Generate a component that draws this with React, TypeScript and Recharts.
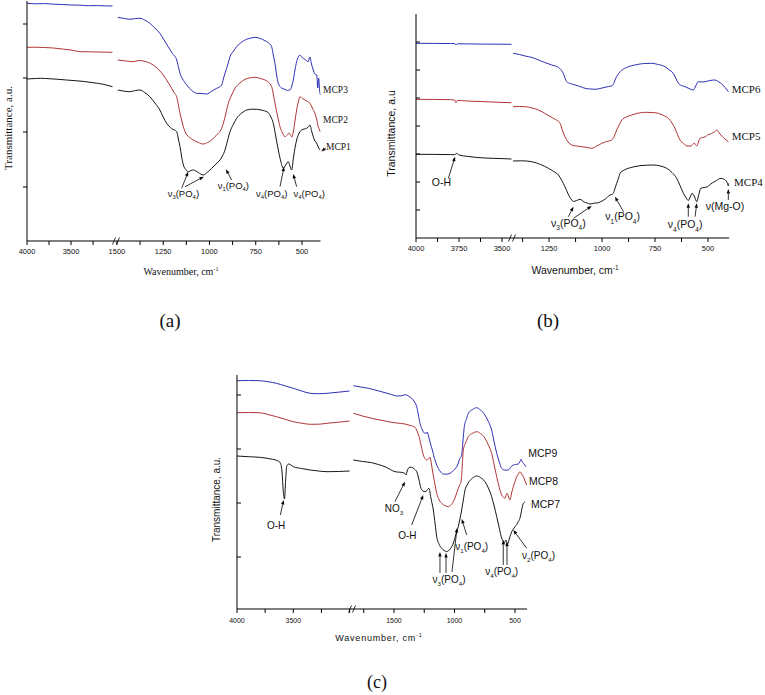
import React from 'react';
import { LineChart, Line, XAxis, YAxis, ReferenceLine, ReferenceDot } from 'recharts';

type Pt = [number, number];

// ---------- Panel (a) : MCP1–MCP3 ----------
const A_L_MCP3: Pt[] = [[4000,237.7],[3900,237.2],[3800,237.4],[3700,236.8],[3600,236.5],[3500,236],[3400,235.8],[3300,235.3],[3200,235.4],[3100,235.1],[3030,235]];
const A_L_MCP2: Pt[] = [[4000,193.7],[3900,193.8],[3800,193.5],[3700,193],[3600,192],[3500,191],[3400,189.3],[3300,189.2],[3200,189],[3100,188.8],[3030,188.7]];
const A_L_MCP1: Pt[] = [[4000,162],[3900,162.5],[3850,162.7],[3750,162.3],[3650,161.7],[3550,161],[3450,160.3],[3350,159.5],[3250,158.3],[3150,157],[3100,156],[3030,154.3]];

const A_R_MCP3: Pt[] = [[1495,223.7],[1460,222.5],[1430,221.7],[1400,222.5],[1376,222.7],[1350,221],[1322,217.7],[1295,213],[1268,207.7],[1245,201],[1223,194.3],[1200,187.5],[1177,181],[1165,172],[1159,167.7],[1140,160.5],[1123,156],[1095,150.5],[1069,147.7],[1040,147.5],[1015,147],[990,149.5],[961,152.7],[945,154],[934,156],[925,162],[916,167.7],[900,177],[889,184.3],[870,190],[853,194.3],[825,199],[799,201.7],[775,203],[754,203.7],[725,202.5],[700,200.3],[680,198],[664,194.3],[655,186],[646,177.7],[637,166],[628,157.7],[610,153],[592,151.7],[578,150.5],[565,151],[555,155],[547,161],[538,171],[529,179.3],[520,184],[511,186],[502,184],[493,182.7],[480,181],[466,179.3],[460,183],[457,184],[450,178],[439,171],[430,167],[420,166],[415,153],[410,163],[405,151],[400,146]];
const A_R_MCP2: Pt[] = [[1495,181],[1450,180],[1412,179.3],[1385,180.5],[1358,180],[1330,178.5],[1304,176],[1275,171.5],[1250,166],[1225,159],[1204,152.7],[1190,148],[1177,144.3],[1168,136],[1159,127.7],[1145,117],[1132,109.3],[1110,104],[1087,101],[1060,98.5],[1034,97],[1010,98.5],[988,101],[970,104.5],[952,107.7],[938,111],[925,117.7],[912,127],[898,137.7],[880,146],[862,152.7],[835,158],[808,161.7],[780,163.2],[754,163.7],[725,162.5],[700,161],[680,158.5],[664,154.3],[655,147],[646,137.7],[632,125],[619,114.3],[605,108],[592,104.3],[580,106],[570,108],[562,106],[555,104],[547,109],[538,120],[529,131],[520,139],[511,144.3],[498,142.5],[484,141],[470,139.5],[457,137.7],[444,133],[430,127.7],[420,121],[412,114.3],[405,111],[400,109]];
const A_R_MCP1: Pt[] = [[1495,151],[1460,149.8],[1430,149.3],[1400,150.5],[1376,151],[1350,148.5],[1322,144.3],[1295,138],[1268,131],[1250,124],[1231,117.7],[1205,112.5],[1177,109.3],[1168,102],[1159,94.3],[1150,84],[1141,76],[1128,71.5],[1114,69.3],[1100,70.5],[1087,71],[1060,68.5],[1034,66],[1010,69],[988,72.7],[965,77],[943,81],[930,85],[916,91],[903,100],[889,109.3],[870,117],[853,122.7],[825,128],[799,131],[770,131.8],[745,131.7],[710,130.5],[682,128.3],[668,124],[655,117.7],[642,105],[628,91],[615,80],[601,72.7],[588,76],[574,79.3],[565,75],[556,71],[545,85],[529,101],[515,108],[502,111],[488,112],[475,112.7],[466,114],[457,116],[448,110],[439,104.3],[430,100],[421,98],[412,94],[403,91]];

// ---------- Panel (b) : MCP4–MCP6 ----------
const B_L_MCP6: Pt[] = [[4000,194.7],[3900,194.6],[3800,194.5],[3775,194.4],[3768,193],[3760,194.2],[3700,194.1],[3600,193.9],[3500,193.8],[3445,193.7]];
const B_L_MCP5: Pt[] = [[4000,138.7],[3900,138.6],[3800,138.3],[3775,138],[3768,135.3],[3760,137.5],[3700,137],[3600,136.3],[3500,135.6],[3445,135.3]];
const B_L_MCP4: Pt[] = [[4000,83.7],[3900,83.6],[3800,83.4],[3775,83.3],[3763,84.6],[3750,83],[3700,81.6],[3650,80.6],[3600,80],[3500,79.4],[3445,79]];

const B_R_MCP6: Pt[] = [[1420,184.7],[1390,183.5],[1363,182],[1330,180.5],[1300,178],[1270,175.5],[1237,173],[1220,172],[1206,170.7],[1195,168.5],[1183,164.7],[1175,160],[1167,156.3],[1150,154.5],[1127,153],[1105,151.5],[1080,149.7],[1055,149],[1033,148.7],[1010,149.5],[986,150.7],[970,151.5],[954,152],[945,154.5],[939,158],[928,162.5],[915,166.3],[895,169.5],[876,171.3],[850,172.8],[829,173.7],[800,174.5],[766,174.7],[735,173.5],[703,171.3],[685,168.5],[664,164.7],[650,159],[640,154.7],[625,152.5],[608,151.3],[590,149.5],[569,148],[558,152],[546,156.3],[530,156],[514,156.3],[490,157.5],[467,158],[455,157],[443,155.3],[430,153],[420,150.7],[410,148],[404,146.3]];
const B_R_MCP5: Pt[] = [[1420,131.3],[1390,131.5],[1363,131.3],[1330,130],[1300,128],[1265,124],[1230,119.7],[1212,117.5],[1198,114.7],[1186,107],[1175,101.3],[1160,96],[1143,93],[1120,92],[1096,91.3],[1070,90.5],[1049,89.7],[1025,92],[1001,94.7],[978,96.5],[954,98],[942,102],[931,108],[918,113.5],[907,118],[885,121],[860,123],[830,124.8],[797,125.7],[765,125.5],[734,124.7],[710,122.5],[687,119.7],[670,115],[656,109.7],[644,103.5],[632,98],[615,94.5],[600,92],[581,92],[570,94],[565,95],[558,93],[553,92],[545,96],[538,99.7],[525,100.5],[514,101],[502,103],[490,104],[482,104.7],[470,106],[459,108],[447,105],[435,102],[420,99],[404,96.3]];
const B_R_MCP4: Pt[] = [[1420,77],[1380,77.2],[1332,76.3],[1290,73.5],[1253,69.7],[1228,66.5],[1206,63],[1190,57.5],[1175,51.3],[1160,44],[1143,38],[1135,36.5],[1120,37.5],[1104,38.7],[1085,36],[1070,35],[1057,34],[1037,34.8],[1017,35.3],[1000,37],[986,38.7],[974,41],[962,43],[955,43.5],[947,44.7],[940,49],[931,54.7],[922,60],[915,64.7],[895,68],[876,69.7],[850,71.2],[821,72.3],[790,72.8],[758,73],[725,72],[695,69.7],[670,65.5],[648,59.7],[632,52.5],[616,44.7],[603,40],[593,37.5],[584,41],[575,44.7],[563,41],[553,36.3],[544,43],[534,49.7],[518,50.5],[502,51.3],[490,53.5],[478,55.3],[460,57.5],[439,59.7],[427,59],[415,57.3],[408,54.5],[404,52],[400,55]];

// ---------- Panel (c) : MCP7–MCP9 ----------
const C_L_MCP9: Pt[] = [[4000,228.3],[3900,228.5],[3800,228.3],[3725,227.3],[3650,225.7],[3575,223.2],[3500,220.7],[3425,218],[3350,215.7],[3275,215.3],[3200,215.7],[3100,216.8],[3000,218]];
const C_L_MCP8: Pt[] = [[4000,196.3],[3900,196.5],[3800,196.3],[3725,194.5],[3650,192.3],[3575,189.8],[3500,187.3],[3425,185.8],[3350,184.7],[3275,184.8],[3200,185.7],[3100,186.8],[3000,188]];
const C_L_MCP7: Pt[] = [[4000,153],[3900,152.3],[3800,151.7],[3700,150],[3640,148.3],[3615,146],[3600,137],[3590,119],[3578,110],[3568,129],[3558,143],[3540,145],[3500,142.3],[3425,140.5],[3350,139],[3275,138],[3200,137.3],[3100,137.5],[3000,138]];

const C_R_MCP9: Pt[] = [[1836,223.3],[1775,222],[1712,220.7],[1640,218.5],[1574,216.3],[1520,214.5],[1478,213],[1440,213.2],[1410,214.2],[1395,214],[1375,212.5],[1354,210.7],[1330,207],[1312,202.3],[1298,194],[1285,185.7],[1265,179],[1244,175.7],[1230,176],[1225,177],[1217,174],[1200,166],[1183,159],[1165,150.5],[1147,144],[1120,138],[1092,135],[1065,134.8],[1037,135.7],[1010,138.5],[982,142.3],[968,146],[955,150.7],[942,153],[930,168],[919,182.3],[900,190.5],[886,195.7],[850,199.5],[817,201.3],[785,199],[748,194],[720,187.5],[693,179],[672,167],[651,155.7],[630,147],[610,140.7],[580,138.8],[555,139],[535,142],[514,144],[495,144.5],[473,145],[460,147],[450,149.7],[440,147],[431,145.7],[420,144],[409,142.3]];
const C_R_MCP8: Pt[] = [[1836,195.7],[1760,193],[1684,190.7],[1615,189],[1547,187.3],[1480,186],[1409,185],[1365,183.5],[1326,181.7],[1310,178],[1293,172.3],[1275,163],[1258,154],[1244,150.5],[1230,149],[1215,150],[1202,151.7],[1192,146],[1183,139],[1165,127],[1147,115.7],[1126,109],[1106,105.7],[1080,103.5],[1051,102.3],[1030,104],[1010,107.3],[990,113],[969,120.7],[955,124.5],[945,128],[936,143],[927,159],[905,167],[886,172.3],[850,175.8],[817,177.3],[785,175.5],[748,170.7],[720,164],[693,155.7],[672,144],[651,132.3],[630,121.5],[610,114],[595,111.5],[583,110.7],[573,114],[565,115.7],[553,112],[541,109],[528,116],[514,122.3],[500,127.5],[486,132.3],[472,135],[459,137.3],[445,135],[431,132.3],[417,128],[403,124]];
const C_R_MCP7: Pt[] = [[1836,149],[1760,147.5],[1684,146.3],[1630,144.5],[1574,142.3],[1530,139.5],[1492,137.3],[1455,136.8],[1423,136.3],[1410,135.5],[1400,134],[1391,138],[1382,140.7],[1368,141.8],[1354,141.7],[1333,140],[1312,137.3],[1295,130],[1277,120.7],[1260,118],[1244,117.3],[1228,118.5],[1211,120.7],[1195,111],[1175,99],[1160,85],[1147,72.3],[1126,64.5],[1106,60.7],[1085,58.5],[1064,57.3],[1043,59],[1023,62.3],[1005,67.5],[990,74],[978,78.5],[969,82.3],[955,90],[941,99],[927,109],[913,119],[896,124],[880,127.3],[850,131],[817,133],[785,131.5],[748,127.3],[720,121],[693,112.3],[672,103],[651,92.3],[630,81],[610,70.7],[598,68],[588,66],[580,68],[575,69],[569,67],[562,65],[545,71],[527,77.3],[513,80],[500,82.3],[486,84.5],[473,87.3],[460,90.5],[450,95.7],[440,102],[431,105.7],[424,106.5],[417,107.3]];

// ---------- Axis ticks ----------
const A_L_TICKS = [4000, 3750, 3500, 3250];
const A_L_LABELS = [4000, 3500];
const A_R_TICKS = [1500, 1375, 1250, 1125, 1000, 875, 750, 625, 500];
const A_R_LABELS = [1500, 1250, 1000, 750, 500];
const A_Y_TICKS = [54, 109, 163, 217];

const B_L_TICKS = [4000, 3875, 3750, 3625, 3500];
const B_L_LABELS = [4000, 3750, 3500];
const B_R_TICKS = [1375, 1250, 1125, 1000, 875, 750, 625, 500];
const B_R_LABELS = [1250, 1000, 750, 500];
const B_Y_TICKS = [28, 56, 84, 112, 140, 168, 196];

const C_L_TICKS = [4000, 3750, 3500, 3250, 3000];
const C_L_LABELS = [4000, 3500];
const C_R_TICKS = [1750, 1500, 1250, 1000, 750, 500];
const C_R_LABELS = [1500, 1000, 500];
const C_Y_TICKS = [52, 106, 160, 214];

// ---------- Annotations (wavenumber, transmittance) ----------
type Arrow = [Pt, Pt];
type Note = { at: Pt; text: string; anchor?: 'start' | 'middle' | 'end'; serif?: boolean };

const A_R_ARROWS: Arrow[] = [[[1150,52.7],[1115,69.3]], [[1132,54.3],[1030,64.3]], [[880,61],[911,71.7]], [[619,54.3],[597,74.3]], [[529,54.3],[547,67]], [[372,93],[396,89.5]]];
const A_R_NOTES: Note[] = [
  { at: [1141, 44.5], text: 'ν_3(PO_4)' },
  { at: [871, 52.5], text: 'ν_1(PO_4)' },
  { at: [664, 44.5], text: 'ν_4(PO_4)' },
  { at: [461, 44.5], text: 'ν_4(PO_4)' },
  { at: [386, 147.7], text: 'MCP3', anchor: 'start', serif: true },
  { at: [386, 117.8], text: 'MCP2', anchor: 'start', serif: true },
  { at: [370, 90.8], text: 'MCP1', anchor: 'start', serif: true },
];

const B_L_ARROWS: Arrow[] = [[[3812,59.7],[3773,81.3]]];
const B_L_NOTES: Note[] = [{ at: [3852, 52], text: 'O-H' }];
const B_R_ARROWS: Arrow[] = [[[1159,21.3],[1135,31.3]], [[1135,19.7],[1049,32]], [[899,26.3],[939,41.3]], [[593,21.3],[593,34.7]], [[561,21.3],[553,34.7]], [[404,38],[404,49]]];
const B_R_NOTES: Note[] = [
  { at: [1159, 11], text: 'ν_3(PO_4)' },
  { at: [903, 17.5], text: 'ν_1(PO_4)' },
  { at: [608, 9.5], text: 'ν_4(PO_4)' },
  { at: [420, 27.5], text: 'ν(Mg-O)' },
  { at: [388, 144.7], text: 'MCP6', anchor: 'start', serif: true },
  { at: [388, 97.7], text: 'MCP5', anchor: 'start', serif: true },
  { at: [377, 51.7], text: 'MCP4', anchor: 'start', serif: true },
];

const C_L_ARROWS: Arrow[] = [[[3615,94],[3586,109]]];
const C_L_NOTES: Note[] = [{ at: [3653, 80.4], text: 'O-H' }];
const C_R_ARROWS: Arrow[] = [[[1492,107.3],[1409,127.3]], [[1354,84],[1258,114]], [[1120,36],[1120,57]], [[1070,36],[1070,56]], [[1021,37],[979,81]], [[899,74],[940,90]], [[597,44],[597,69]], [[566,44],[566,67.3]], [[403,60.7],[514,79]]];
const C_R_NOTES: Note[] = [
  { at: [1500, 97], text: 'NO_3' },
  { at: [1390, 70.4], text: 'O-H' },
  { at: [1045, 26], text: 'ν_3(PO_4)' },
  { at: [858, 58.7], text: 'ν_1(PO_4)' },
  { at: [610, 33.7], text: 'ν_4(PO_4)' },
  { at: [442, 50.4], text: 'ν_2(PO_4)', anchor: 'start' },
  { at: [390, 152], text: 'MCP9', anchor: 'start' },
  { at: [384, 123.5], text: 'MCP8', anchor: 'start' },
  { at: [368, 101], text: 'MCP7', anchor: 'start' },
];

const BLUE = '#2e2eb4';
const RED = '#b03434';
const BLACK = '#151515';
const SANS = '"Liberation Sans", Arial, sans-serif';
const SERIF = '"Liberation Serif", "Times New Roman", serif';

function rich(text: string, size: number) {
  const out: React.ReactNode[] = [];
  let i = 0, buf = '', cur = 0, k = 0;
  const push = (s: string, off: number, fs: number) => {
    out.push(<tspan key={k++} dy={off - cur} fontSize={fs}>{s}</tspan>);
    cur = off;
  };
  while (i < text.length) {
    const c = text[i];
    if (c === '_' || c === '^') {
      if (buf) { push(buf, 0, size); buf = ''; }
      let s = '';
      const j = i + 1;
      if (text[j] === '{') { const e = text.indexOf('}', j); s = text.slice(j + 1, e); i = e + 1; }
      else { s = text[j]; i = j + 1; }
      push(s, c === '_' ? size * 0.3 : -size * 0.42, size * 0.62);
    } else { buf += c; i++; }
  }
  if (buf) push(buf, 0, size);
  return out;
}

const rows = (d: Pt[]) => d.map(([w, t]) => ({ w, t }));

const arrowShape = (p: any) => {
  const { x1, y1, x2, y2 } = p;
  const dx = x2 - x1, dy = y2 - y1;
  const len = Math.hypot(dx, dy) || 1;
  const ux = dx / len, uy = dy / len;
  const hl = 4.5, hw = 1.7;
  const bx = x2 - ux * hl, by = y2 - uy * hl;
  return (
    <g>
      <line x1={x1} y1={y1} x2={bx} y2={by} stroke="#000" strokeWidth={0.8} />
      <polygon points={`${x2},${y2} ${bx - uy * hw},${by + ux * hw} ${bx + uy * hw},${by - ux * hw}`} fill="#000" />
    </g>
  );
};

type SegProps = {
  left: number; top: number; plotW: number; plotH: number;
  xDomain: [number, number]; xTicks: number[]; xLabels: number[];
  yDomain: [number, number]; yTicks: number[]; showY: boolean; yInward?: boolean;
  series: { data: Pt[]; color: string }[];
  arrows: Arrow[]; notes: Note[]; extraRight: number; padLeft?: number;
  tickFont: number; tickDy: number; noteSize: number; mcpSize: number;
};

function Segment(s: SegProps) {
  const yW = s.showY ? 10 : 0;
  const padL = s.padLeft || 0;
  const xH = 24;
  const width = padL + yW + s.plotW + s.extraRight;
  const height = s.plotH + xH;
  const tick = (p: any) => {
    const v = p.payload?.value;
    if (!s.xLabels.includes(v)) return <g />;
    return (
      <text x={p.x} y={p.y} dy={s.tickDy} textAnchor="middle" fontSize={s.tickFont} fontFamily={SANS} fill="#111">{v}</text>
    );
  };
  return (
    <div style={{ position: 'absolute', left: s.left - yW - padL, top: s.top }}>
      <LineChart width={width} height={height} margin={{ top: 0, right: s.extraRight, bottom: 0, left: padL }}>
        <XAxis type="number" dataKey="w" domain={s.xDomain} reversed allowDataOverflow ticks={s.xTicks} interval={0}
          height={xH} tickSize={4} tickLine={{ stroke: '#000' }} axisLine={{ stroke: '#000' }} tick={tick} />
        {s.showY ? (
          <YAxis type="number" domain={s.yDomain} allowDataOverflow ticks={s.yTicks} interval={0} width={yW}
            tickSize={s.yInward ? -4 : 4} tickLine={{ stroke: '#000' }} axisLine={{ stroke: '#000' }} tick={() => <g />} />
        ) : (
          <YAxis type="number" domain={s.yDomain} allowDataOverflow hide />
        )}
        {s.series.map((ser, i) => (
          <Line key={i} data={rows(ser.data)} dataKey="t" type="monotone" stroke={ser.color} strokeWidth={1}
            dot={false} activeDot={false} isAnimationActive={false} />
        ))}
        {s.arrows.map((a, i) => (
          <ReferenceLine key={'a' + i} segment={[{ x: a[0][0], y: a[0][1] }, { x: a[1][0], y: a[1][1] }]}
            ifOverflow="visible" shape={arrowShape} />
        ))}
        {s.notes.map((n, i) => {
          const isMcp = n.text.startsWith('MCP');
          const size = isMcp ? s.mcpSize : s.noteSize;
          return (
            <ReferenceDot key={'n' + i} x={n.at[0]} y={n.at[1]} ifOverflow="visible"
              shape={(p: any) => (
                <text x={p.cx} y={p.cy} textAnchor={n.anchor || 'middle'} fontSize={size}
                  fontFamily={n.serif ? SERIF : SANS} fill="#111">{rich(n.text, size)}</text>
              )} />
          );
        })}
      </LineChart>
    </div>
  );
}

function BreakMark({ x, y }: { x: number; y: number }) {
  return (
    <g stroke="#000" strokeWidth={0.8}>
      <line x1={x - 3.5} y1={y + 3.5} x2={x - 0.5} y2={y - 3.5} />
      <line x1={x + 0.5} y1={y + 3.5} x2={x + 3.5} y2={y - 3.5} />
    </g>
  );
}

export default function App() {
  return (
    <div style={{ position: 'absolute', left: 0, top: 0, width: 765, height: 695, background: '#fff', overflow: 'hidden' }}>
      {/* Panel (a) */}
      <Segment left={27} top={1} plotW={89} plotH={240} xDomain={[2990, 4000]} xTicks={A_L_TICKS} xLabels={A_L_LABELS}
        yDomain={[0, 240]} yTicks={A_Y_TICKS} showY
        series={[{ data: A_L_MCP3, color: BLUE }, { data: A_L_MCP2, color: RED }, { data: A_L_MCP1, color: BLACK }]}
        arrows={[]} notes={[]} extraRight={0} tickFont={7.5} tickDy={6.7} noteSize={9.5} mcpSize={9.5} />
      <Segment left={116} top={1} plotW={204.5} plotH={240} xDomain={[400, 1505]} xTicks={A_R_TICKS} xLabels={A_R_LABELS}
        yDomain={[0, 240]} yTicks={A_Y_TICKS} showY={false} padLeft={14}
        series={[{ data: A_R_MCP3, color: BLUE }, { data: A_R_MCP2, color: RED }, { data: A_R_MCP1, color: BLACK }]}
        arrows={A_R_ARROWS} notes={A_R_NOTES} extraRight={42} tickFont={7.5} tickDy={6.7} noteSize={9.5} mcpSize={9.5} />

      {/* Panel (b) */}
      <Segment left={416} top={14} plotW={96} plotH={224} xDomain={[3442, 4000]} xTicks={B_L_TICKS} xLabels={B_L_LABELS}
        yDomain={[0, 224]} yTicks={B_Y_TICKS} showY yInward
        series={[{ data: B_L_MCP6, color: BLUE }, { data: B_L_MCP5, color: RED }, { data: B_L_MCP4, color: BLACK }]}
        arrows={B_L_ARROWS} notes={B_L_NOTES} extraRight={0} tickFont={7.5} tickDy={6.7} noteSize={10.5} mcpSize={11} />
      <Segment left={512} top={14} plotW={217.2} plotH={224} xDomain={[400, 1425]} xTicks={B_R_TICKS} xLabels={B_R_LABELS}
        yDomain={[0, 224]} yTicks={B_Y_TICKS} showY={false} padLeft={14}
        series={[{ data: B_R_MCP6, color: BLUE }, { data: B_R_MCP5, color: RED }, { data: B_R_MCP4, color: BLACK }]}
        arrows={B_R_ARROWS} notes={B_R_NOTES} extraRight={35} tickFont={7.5} tickDy={6.7} noteSize={10.5} mcpSize={11} />

      {/* Panel (c) */}
      <Segment left={236.7} top={375} plotW={115.3} plotH={234} xDomain={[2976, 4000]} xTicks={C_L_TICKS} xLabels={C_L_LABELS}
        yDomain={[0, 234]} yTicks={C_Y_TICKS} showY yInward
        series={[{ data: C_L_MCP9, color: BLUE }, { data: C_L_MCP8, color: RED }, { data: C_L_MCP7, color: BLACK }]}
        arrows={C_L_ARROWS} notes={C_L_NOTES} extraRight={0} tickFont={7} tickDy={8.5} noteSize={10} mcpSize={10.5} />
      <Segment left={352} top={375} plotW={175.1} plotH={234} xDomain={[400, 1847]} xTicks={C_R_TICKS} xLabels={C_R_LABELS}
        yDomain={[0, 234]} yTicks={C_Y_TICKS} showY={false} padLeft={14}
        series={[{ data: C_R_MCP9, color: BLUE }, { data: C_R_MCP8, color: RED }, { data: C_R_MCP7, color: BLACK }]}
        arrows={C_R_ARROWS} notes={C_R_NOTES} extraRight={40} tickFont={7} tickDy={8.5} noteSize={10} mcpSize={10.5} />

      {/* Titles, captions, axis breaks */}
      <svg width={765} height={695} style={{ position: 'absolute', left: 0, top: 0, pointerEvents: 'none' }}>
        <text transform="translate(11.5,128) rotate(-90)" textAnchor="middle" fontSize={11} fontFamily={SERIF} fill="#111">Transmittance, a.u.</text>
        <text x={181} y={275} textAnchor="middle" fontSize={10} fontFamily={SERIF} fill="#111">{rich('Wavenumber, cm^{-1}', 10)}</text>
        <text x={170} y={327} textAnchor="middle" fontSize={19} fontFamily={SERIF} fill="#111">(a)</text>

        <text transform="translate(395,133.5) rotate(-90)" textAnchor="middle" fontSize={10.5} fontFamily={SANS} fill="#111">Transmittance, a.u</text>
        <text x={575} y={274} textAnchor="middle" fontSize={10.5} fontFamily={SANS} fill="#111">{rich('Wavenumber, cm^{-1}', 10.5)}</text>
        <text x={548} y={327} textAnchor="middle" fontSize={19} fontFamily={SERIF} fill="#111">(b)</text>

        <text transform="translate(220,499.5) rotate(-90)" textAnchor="middle" fontSize={10} fontFamily={SANS} fill="#111">Transmittance, a.u.</text>
        <text x={379} y={641} textAnchor="middle" fontSize={9} letterSpacing={0.8} fontFamily={SANS} fill="#111">{rich('Wavenumber, cm^{-1}', 9)}</text>
        <text x={377} y={688} textAnchor="middle" fontSize={18} fontFamily={SERIF} fill="#111">(c)</text>

        <BreakMark x={116} y={241} />
        <BreakMark x={512} y={238} />
        <BreakMark x={352} y={609} />
      </svg>
    </div>
  );
}
